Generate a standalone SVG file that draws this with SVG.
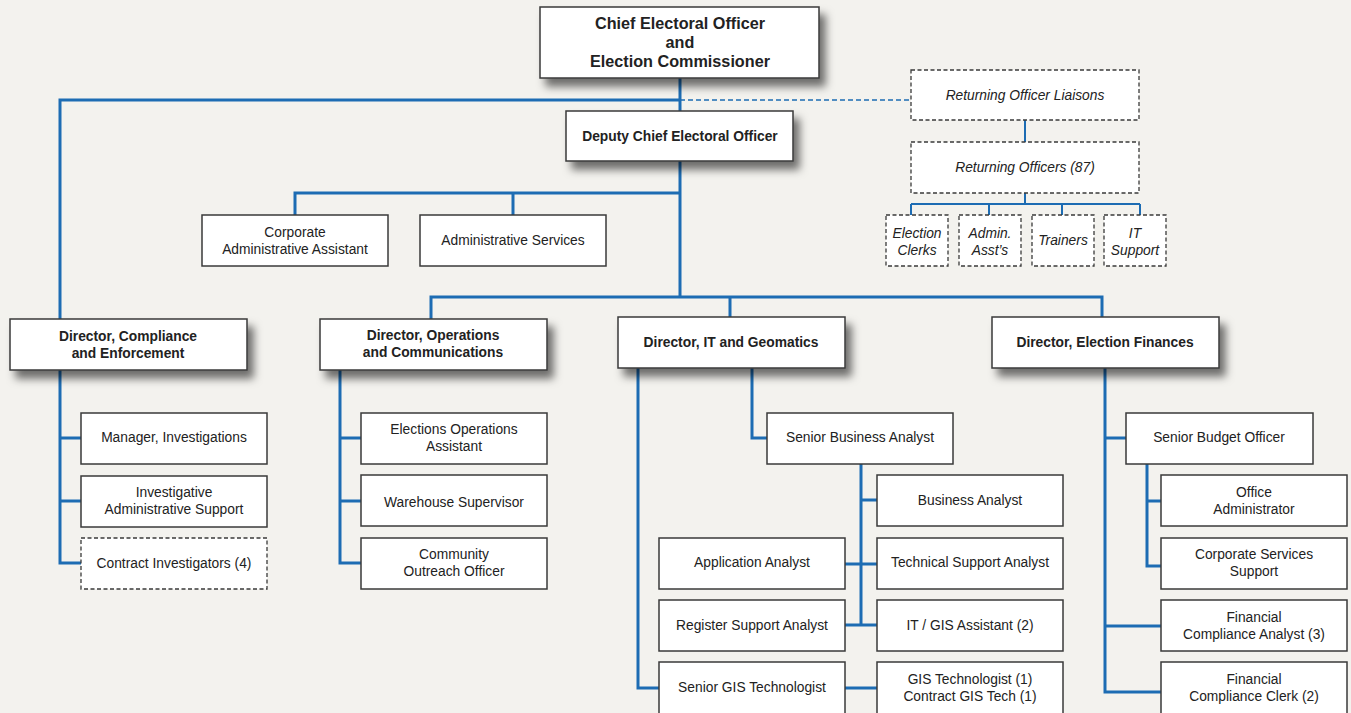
<svg xmlns="http://www.w3.org/2000/svg" width="1351" height="713" viewBox="0 0 1351 713">
<defs>
<filter id="sh" x="-20%" y="-30%" width="150%" height="190%">
<feDropShadow dx="6" dy="8" stdDeviation="4" flood-color="#000" flood-opacity="0.55"/>
</filter>
</defs>
<style>
.bg{fill:#f3f2ee}
.box{fill:#fff;stroke:#3a3a3a;stroke-width:1.5}
.dash{fill:#fff;stroke:#3a3a3a;stroke-width:1.3;stroke-dasharray:4 2.5}
.ln{fill:none;stroke:#1d6cb3;stroke-width:3}
.ln2{fill:none;stroke:#1d6cb3;stroke-width:2}
.dl{fill:none;stroke:#1d6cb3;stroke-width:1.3;stroke-dasharray:5 3}
text{font-family:"Liberation Sans",Arial,sans-serif;fill:#222;text-anchor:middle}
.t{font-size:13.8px}
.b{font-size:13.8px;font-weight:bold}
.bt{font-size:16.2px;font-weight:bold}
.bd{font-size:13.8px;font-weight:bold}
.i{font-size:13.8px;font-style:italic}
</style>
<rect class="bg" x="0" y="0" width="1351" height="713"/>
<g id="connectors">
<path class="ln" d="M680 78V297M60 320V100H680M295 215V193H680M513 193V215M431 320V297H1102V318M730 297V318"/>
<path class="dl" d="M680 100H911"/>
<path class="ln2" d="M1025 120V142M1025 193V204M911 204H1140M911 204V215M989 204V215M1062 204V215M1140 204V215"/>
<path class="ln" d="M60 370V563H81M60 438H81M60 501H81"/>
<path class="ln" d="M340 370V563H361M340 438H361M340 501H361"/>
<path class="ln" d="M638 368V688H659M752 368V438H767M861 463V625M861 500H877M845 564H877M845 625H877M845 688H877"/>
<path class="ln" d="M1105 368V692H1161M1105 438H1126M1105 626H1161M1147 463V566H1161M1147 501H1161"/>
</g>
<g id="chief"><rect class="box" filter="url(#sh)" x="540" y="7" width="279" height="71"/>
<text class="bt" x="680" y="29">Chief Electoral Officer</text><text class="bt" x="680" y="48">and</text><text class="bt" x="680" y="67">Election Commissioner</text></g>
<g id="deputy"><rect class="box" filter="url(#sh)" x="566" y="111" width="227" height="50"/>
<text class="bd" x="680" y="141">Deputy Chief Electoral Officer</text></g>
<g id="ro-liaisons"><rect class="dash" x="911" y="70" width="228" height="50"/><text class="i" x="1025" y="100">Returning Officer Liaisons</text></g>
<g id="ro"><rect class="dash" x="911" y="142" width="228" height="51"/><text class="i" x="1025" y="172">Returning Officers (87)</text></g>
<g id="clerks"><rect class="dash" x="886" y="215" width="62" height="51"/><text class="i" x="917" y="238">Election</text><text class="i" x="917" y="255">Clerks</text></g>
<g id="admin-assts"><rect class="dash" x="959" y="215" width="62" height="51"/><text class="i" x="990" y="238">Admin.</text><text class="i" x="990" y="255">Asst’s</text></g>
<g id="trainers"><rect class="dash" x="1032" y="215" width="62" height="51"/><text class="i" x="1063" y="245">Trainers</text></g>
<g id="it-support"><rect class="dash" x="1104" y="215" width="62" height="51"/><text class="i" x="1135" y="238">IT</text><text class="i" x="1135" y="255">Support</text></g>
<g id="corp-admin"><rect class="box" x="202" y="215" width="186" height="51"/><text class="t" x="295" y="237">Corporate</text><text class="t" x="295" y="254">Administrative Assistant</text></g>
<g id="admin-services"><rect class="box" x="420" y="215" width="186" height="51"/><text class="t" x="513" y="245">Administrative Services</text></g>
<g id="dir-compliance"><rect class="box" filter="url(#sh)" x="10" y="319" width="237" height="51"/><text class="b" x="128" y="341">Director, Compliance</text><text class="b" x="128" y="358">and Enforcement</text></g>
<g id="dir-operations"><rect class="box" filter="url(#sh)" x="320" y="319" width="227" height="51"/><text class="b" x="433" y="340">Director, Operations</text><text class="b" x="433" y="357">and Communications</text></g>
<g id="dir-it"><rect class="box" filter="url(#sh)" x="618" y="317" width="227" height="51"/><text class="b" x="731" y="347">Director, IT and Geomatics</text></g>
<g id="dir-finances"><rect class="box" filter="url(#sh)" x="992" y="317" width="227" height="51"/><text class="b" x="1105" y="347">Director, Election Finances</text></g>
<g id="mgr-investigations"><rect class="box" x="81" y="413" width="186" height="51"/><text class="t" x="174" y="442">Manager, Investigations</text></g>
<g id="inv-admin"><rect class="box" x="81" y="476" width="186" height="51"/><text class="t" x="174" y="497">Investigative</text><text class="t" x="174" y="514">Administrative Support</text></g>
<g id="contract-inv"><rect class="dash" x="81" y="538" width="186" height="51"/><text class="t" x="174" y="568">Contract Investigators (4)</text></g>
<g id="elections-ops"><rect class="box" x="361" y="413" width="186" height="51"/><text class="t" x="454" y="434">Elections Operations</text><text class="t" x="454" y="451">Assistant</text></g>
<g id="warehouse"><rect class="box" x="361" y="475" width="186" height="51"/><text class="t" x="454" y="507">Warehouse Supervisor</text></g>
<g id="outreach"><rect class="box" x="361" y="538" width="186" height="51"/><text class="t" x="454" y="559">Community</text><text class="t" x="454" y="576">Outreach Officer</text></g>
<g id="sr-ba"><rect class="box" x="767" y="413" width="186" height="51"/><text class="t" x="860" y="442">Senior Business Analyst</text></g>
<g id="ba"><rect class="box" x="877" y="475" width="186" height="51"/><text class="t" x="970" y="505">Business Analyst</text></g>
<g id="app-analyst"><rect class="box" x="659" y="538" width="186" height="51"/><text class="t" x="752" y="567">Application Analyst</text></g>
<g id="tech-support"><rect class="box" x="877" y="538" width="186" height="51"/><text class="t" x="970" y="567">Technical Support Analyst</text></g>
<g id="register-support"><rect class="box" x="659" y="600" width="186" height="51"/><text class="t" x="752" y="630">Register Support Analyst</text></g>
<g id="it-gis-assistant"><rect class="box" x="877" y="600" width="186" height="51"/><text class="t" x="970" y="630">IT / GIS Assistant (2)</text></g>
<g id="sr-gis"><rect class="box" x="659" y="662" width="186" height="56"/><text class="t" x="752" y="692">Senior GIS Technologist</text></g>
<g id="gis-tech"><rect class="box" x="877" y="662" width="186" height="56"/><text class="t" x="970" y="684">GIS Technologist (1)</text><text class="t" x="970" y="701">Contract GIS Tech (1)</text></g>
<g id="sr-budget"><rect class="box" x="1126" y="413" width="187" height="51"/><text class="t" x="1219" y="442">Senior Budget Officer</text></g>
<g id="office-admin"><rect class="box" x="1161" y="475" width="186" height="51"/><text class="t" x="1254" y="497">Office</text><text class="t" x="1254" y="514">Administrator</text></g>
<g id="corp-services"><rect class="box" x="1161" y="538" width="186" height="51"/><text class="t" x="1254" y="559">Corporate Services</text><text class="t" x="1254" y="576">Support</text></g>
<g id="fin-analyst"><rect class="box" x="1161" y="600" width="186" height="51"/><text class="t" x="1254" y="622">Financial</text><text class="t" x="1254" y="639">Compliance Analyst (3)</text></g>
<g id="fin-clerk"><rect class="box" x="1161" y="662" width="186" height="56"/><text class="t" x="1254" y="684">Financial</text><text class="t" x="1254" y="701">Compliance Clerk (2)</text></g>
</svg>
